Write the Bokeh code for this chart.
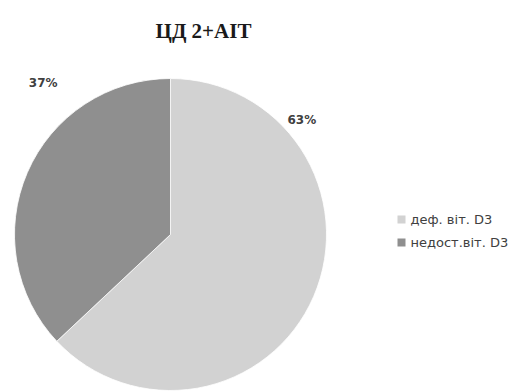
import math
from bokeh.plotting import figure
from bokeh.models import Range1d
from bokeh.embed import file_html
from bokeh.resources import INLINE
from bokeh.core.properties import value

# Data
categories = ["деф. віт. D3", "недост.віт. D3"]
shares = [63, 37]
pct_labels = ["63%", "37%"]
colors = ["#d2d2d2", "#8f8f8f"]

W, H = 516, 392
p = figure(width=W, height=H, output_backend="svg", toolbar_location=None,
           x_range=Range1d(0, W), y_range=Range1d(0, H), min_border=0)
p.axis.visible = False
p.grid.visible = False
p.outline_line_color = None
p.background_fill_color = "white"

# Pie geometry (screen units; y measured from the bottom)
cx, cy, r = 170, H - 234, 156

total = sum(shares)
start = math.pi / 2
for share, color in zip(shares, colors):
    sweep = 2 * math.pi * share / total
    end = start - sweep
    p.wedge(x=[cx], y=[cy], radius=r, start_angle=[end], end_angle=[start],
            fill_color=color, line_color="white", line_width=0.8)
    start = end

# Percentage labels placed outside the pie at chosen angles
label_angles = [41, 130]
label_dist = [174, 198]
lx = [cx + d * math.cos(math.radians(a)) for a, d in zip(label_angles, label_dist)]
ly = [cy + d * math.sin(math.radians(a)) for a, d in zip(label_angles, label_dist)]
p.text(x=lx, y=ly, text=pct_labels, text_font=value("DejaVu Sans"),
       text_font_size="12px", text_font_style="bold", text_color="#404040",
       text_align="center", text_baseline="middle")

# Title
p.text(x=[203], y=[H - 30], text=["ЦД 2+AIT"],
       text_font=value("Liberation Serif"), text_font_size="21px",
       text_font_style="bold", text_color="#1a1a1a",
       text_align="center", text_baseline="middle")

# Legend
leg_x, leg_y0, leg_step = 401, H - 219, 23
for i, (name, color) in enumerate(zip(categories, colors)):
    yy = leg_y0 - i * leg_step
    p.rect(x=[leg_x], y=[yy], width=8, height=8, fill_color=color, line_color=None)
    p.text(x=[leg_x + 9], y=[yy], text=[name], text_font=value("DejaVu Sans"),
           text_font_size="13px", text_color="#404040",
           text_align="left", text_baseline="middle")

open("out.html", "w").write(file_html(p, INLINE))
